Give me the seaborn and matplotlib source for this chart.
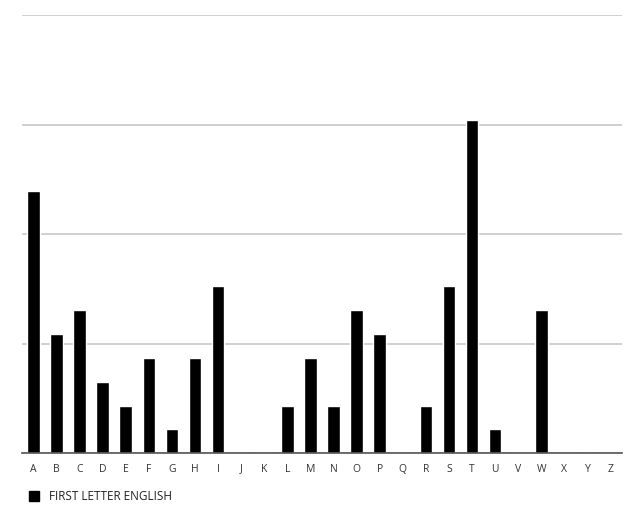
import matplotlib
matplotlib.use('Agg')
import matplotlib.pyplot as plt
import seaborn as sns
import pandas as pd
from matplotlib.lines import Line2D

# 資料
letters = list('ABCDEFGHIJKLMNOPQRSTUVWXYZ')
share = [0.1196, 0.0543, 0.0652, 0.0326, 0.0217, 0.0435, 0.0109, 0.0435, 0.0761, 0.0,
         0.0, 0.0217, 0.0435, 0.0217, 0.0652, 0.0543, 0.0, 0.0217, 0.0761, 0.1522,
         0.0109, 0.0, 0.0652, 0.0, 0.0, 0.0]
series_name = 'FIRST LETTER ENGLISH'
grid_ticks = [0.0, 0.05, 0.10, 0.15, 0.20]

df = pd.DataFrame({'letter': letters, 'share': share})

sns.set_style('white')
plt.rcParams['font.family'] = ['Open Sans', 'DejaVu Sans']

fig = plt.figure(figsize=(6.4, 5.19), dpi=100)
ax = fig.add_axes([0.034, 0.127, 0.938, 0.844])

sns.barplot(data=df, x='letter', y='share', color='black', width=0.54,
            saturation=1, ax=ax, zorder=3)

ax.set_ylim(0, 0.20)
ax.set_yticks(grid_ticks)
ax.yaxis.grid(True, color='#c8c8c8', linewidth=1.2, zorder=0)
ax.tick_params(axis='y', left=False, labelleft=False)
ax.tick_params(axis='x', bottom=False, labelsize=7.5, colors='#333333', pad=4)
ax.set_xlim(-0.5, 25.5)
ax.set_xlabel('')
ax.set_ylabel('')
for s in ['top', 'right', 'left']:
    ax.spines[s].set_visible(False)
ax.spines['bottom'].set_color('#555555')
ax.spines['bottom'].set_linewidth(1.2)
ax.spines['bottom'].set_zorder(4)

# 圖例
handle = Line2D([], [], marker='s', color='black', linestyle='none', markersize=7)
fig.legend([handle], [series_name], loc='lower left', bbox_to_anchor=(0.025, 0.011),
           frameon=False, fontsize=8.5, handletextpad=0.7, handlelength=1.2,
           labelcolor='#222222')

plt.savefig('out.png', dpi=100)
